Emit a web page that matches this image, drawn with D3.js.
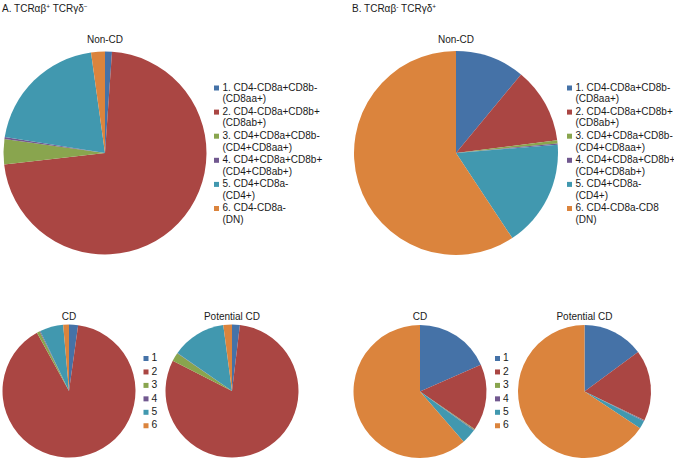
<!DOCTYPE html>
<html><head><meta charset="utf-8">
<script src="https://cdn.jsdelivr.net/npm/d3@7"></script>
<style>
body{margin:0;background:#fff;}
text{font-family:"Liberation Sans",Arial,sans-serif;fill:#1a1a1a;}
</style></head>
<body>
<script>
const categories = ["1","2","3","4","5","6"];
const colors = ["#4572A7","#AA4643","#89A54E","#71588F","#4198AF","#DB843D"];
const legendA = [["1. CD4-CD8a+CD8b-","(CD8aa+)"],["2. CD4-CD8a+CD8b+","(CD8ab+)"],["3. CD4+CD8a+CD8b-","(CD4+CD8aa+)"],["4. CD4+CD8a+CD8b+","(CD4+CD8ab+)"],["5. CD4+CD8a-","(CD4+)"],["6. CD4-CD8a-","(DN)"]];
const legendB = [["1. CD4-CD8a+CD8b-","(CD8aa+)"],["2. CD4-CD8a+CD8b+","(CD8ab+)"],["3. CD4+CD8a+CD8b-","(CD4+CD8aa+)"],["4. CD4+CD8a+CD8b+","(CD4+CD8ab+)"],["5. CD4+CD8a-","(CD4+)"],["6. CD4-CD8a-CD8","(DN)"]];
const aNonCD = [1.1, 72.1, 4.0, 0.3, 20.3, 2.2];
const aCD = [2.2, 89.8, 0.7, 0.2, 5.7, 1.4];
const aPotCD = [1.9, 80.6, 2.1, 0.1, 13.2, 2.1];
const bNonCD = [11.0, 12.0, 0.5, 0.2, 17.0, 59.3];
const bCD = [18.4, 16.2, 0.2, 0.2, 3.6, 61.4];
const bPotCD = [14.9, 17.2, 0.1, 0.2, 1.9, 65.7];

const svg = d3.select("body").append("svg").attr("width",674).attr("height",461);
const pie = d3.pie().sort(null).value(d=>d);
const color = d3.scaleOrdinal().domain(categories).range(colors);

function drawPie(vals, cx, cy, r, title, ty){
  const g = svg.append("g").attr("transform",`translate(${cx},${cy})`);
  const arc = d3.arc().innerRadius(0).outerRadius(r);
  g.selectAll("path").data(pie(vals)).join("path")
    .attr("d",arc).attr("fill",(d,i)=>color(categories[i]));
  svg.append("text").attr("x",cx).attr("y",ty).attr("text-anchor","middle")
    .attr("font-size","10px").attr("dominant-baseline","middle").text(title);
}
function bigLegend(labels, x, y0){
  const g = svg.append("g");
  labels.forEach((l,i)=>{
    const y = y0 + i*24.1;
    g.append("rect").attr("x",x-2.5).attr("y",y-2.5).attr("width",5).attr("height",5).attr("fill",color(categories[i]));
    g.append("text").attr("x",x+6).attr("y",y).attr("dominant-baseline","middle").attr("font-size","10px").text(l[0]);
    g.append("text").attr("x",x+6).attr("y",y+11.7).attr("dominant-baseline","middle").attr("font-size","10px").text(l[1]);
  });
}
function smallLegend(x, y0){
  const g = svg.append("g");
  categories.forEach((c,i)=>{
    const y = y0 + i*13.45;
    g.append("rect").attr("x",x-2.5).attr("y",y-2.5).attr("width",5).attr("height",5).attr("fill",color(c));
    g.append("text").attr("x",x+5.5).attr("y",y).attr("dominant-baseline","middle").attr("font-size","10.3px").text(c);
  });
}
function heading(x, y, a, b){
  const t = svg.append("text").attr("x",x).attr("y",y).attr("font-size","10px");
  t.append("tspan").text(a[0]);
  t.append("tspan").attr("font-size","6.5px").attr("dy",-3.5).text(a[1]);
  t.append("tspan").attr("dy",3.5).text(" "+b[0]);
  t.append("tspan").attr("font-size","6.5px").attr("dy",-3.5).text(b[1]);
}
heading(2, 12, ["A. TCRαβ","+"], ["TCRγδ","−"]);
heading(352, 12, ["B. TCRαβ","-"], ["TCRγδ","+"]);

drawPie(aNonCD, 105, 153, 101.5, "Non-CD", 40);
drawPie(bNonCD, 456, 153, 102, "Non-CD", 40);
drawPie(aCD, 69, 391, 66.5, "CD", 317);
drawPie(aPotCD, 232, 391, 66.5, "Potential CD", 317);
drawPie(bCD, 420, 391.5, 66.5, "CD", 317);
drawPie(bPotCD, 584.5, 391.5, 66.5, "Potential CD", 317);

bigLegend(legendA, 216.5, 88);
bigLegend(legendB, 569.5, 88);
smallLegend(146, 358.5);
smallLegend(497.5, 358.5);
</script>
</body></html>
